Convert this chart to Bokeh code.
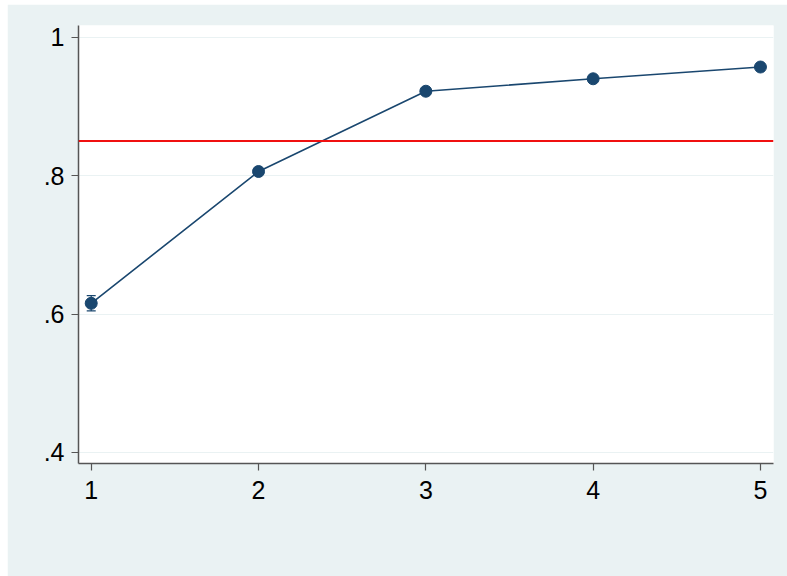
from bokeh.plotting import figure
from bokeh.models import FixedTicker, Range1d, Whisker, ColumnDataSource, TeeHead, Span, Spacer
from bokeh.layouts import column, row
from bokeh.embed import file_html
from bokeh.resources import INLINE

# Series values
x_vals = [1, 2, 3, 4, 5]
y_vals = [0.6155, 0.806, 0.922, 0.940, 0.957]
y_err = [0.011, 0.004, 0.002, 0.002, 0.002]
threshold = 0.85

x_ticks = [1, 2, 3, 4, 5]
y_ticks = [0.4, 0.6, 0.8, 1.0]
y_tick_labels = [".4", ".6", ".8", "1"]

BG = "#EAF2F3"
NAVY = "#1A476F"

p = figure(width=780, height=572, output_backend="svg", toolbar_location=None,
           x_range=Range1d(0.924, 5.078), y_range=Range1d(0.384, 1.017),
           min_border_left=71, min_border_top=21, min_border_right=14, min_border_bottom=113)
p.background_fill_color = "white"
p.border_fill_color = BG
p.outline_line_color = None

src = ColumnDataSource(dict(
    x=x_vals, y=y_vals,
    lo=[v - e for v, e in zip(y_vals, y_err)],
    hi=[v + e for v, e in zip(y_vals, y_err)],
))

# reference line
p.add_layout(Span(location=threshold, dimension="width", line_color="#F01010", line_width=2))

p.line("x", "y", source=src, line_color=NAVY, line_width=1.6)
p.add_layout(Whisker(source=src, base="x", lower="lo", upper="hi", line_color=NAVY, line_width=1.2,
                     upper_head=TeeHead(size=9, line_color=NAVY, line_width=1.2),
                     lower_head=TeeHead(size=9, line_color=NAVY, line_width=1.2)))
p.scatter("x", "y", source=src, size=12, fill_color=NAVY, line_color=NAVY)

p.xgrid.visible = False
p.ygrid.ticker = FixedTicker(ticks=y_ticks)
p.ygrid.grid_line_color = BG
p.ygrid.grid_line_width = 1

p.xaxis.ticker = FixedTicker(ticks=x_ticks)
p.yaxis.ticker = FixedTicker(ticks=y_ticks)
p.yaxis.major_label_overrides = {t: lab for t, lab in zip(y_ticks, y_tick_labels)}

for ax in (p.xaxis, p.yaxis):
    ax.axis_line_color = "#555555"
    ax.axis_line_width = 1.5
    ax.major_tick_line_color = "#555555"
    ax.major_tick_line_width = 1.2
    ax.major_tick_in = 0
    ax.major_tick_out = 7
    ax.minor_tick_line_color = None
    ax.major_label_text_font = "Liberation Sans"
    ax.major_label_text_font_size = "25px"
    ax.major_label_text_color = "black"
p.yaxis.major_label_standoff = 7
p.xaxis.major_label_standoff = 10

layout = column(Spacer(height=4), row(Spacer(width=7), p), spacing=0)
layout.styles = {"background-color": "white"}

open("out.html", "w").write(file_html(layout, INLINE))
